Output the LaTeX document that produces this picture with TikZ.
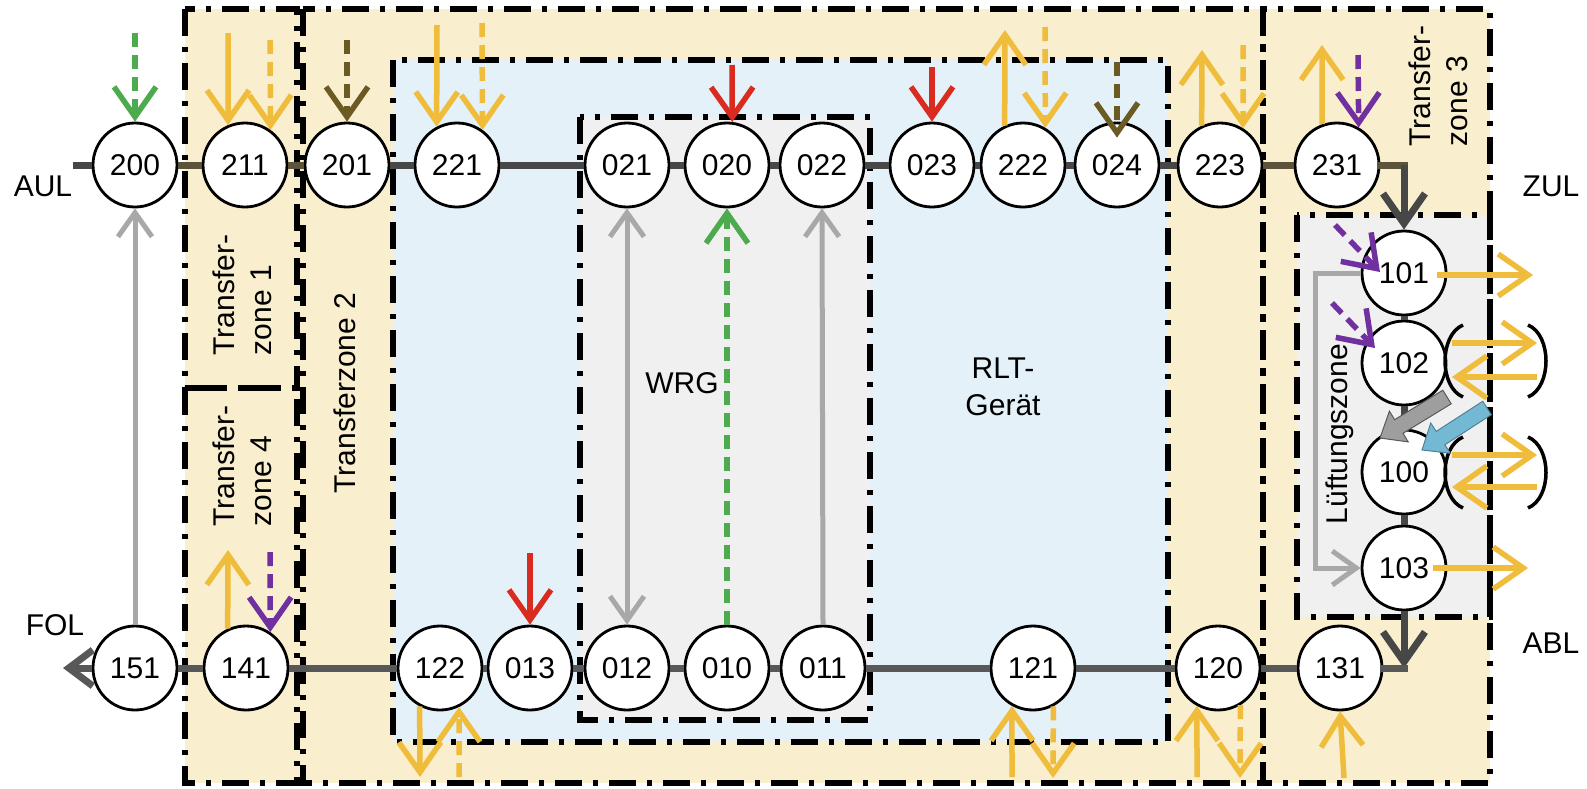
\documentclass[tikz,border=0pt]{standalone}
\usepackage{fontspec}
\setmainfont{Liberation Sans}
\usetikzlibrary{arrows.meta,calc}
\definecolor{beige}{HTML}{F9EFCF}
\definecolor{lblue}{HTML}{E4F1F8}
\definecolor{lgray}{HTML}{F0F0F0}
\definecolor{yel}{HTML}{EFBC3B}
\definecolor{rd}{HTML}{D92B1F}
\definecolor{grn}{HTML}{4DAA4E}
\definecolor{olv}{HTML}{6B5A22}
\definecolor{prp}{HTML}{7030A0}
\definecolor{gry}{HTML}{A8A8A8}
\definecolor{dline}{HTML}{474747}
\definecolor{bline}{HTML}{5C543A}
\definecolor{bot}{HTML}{585858}
\definecolor{fatgray}{HTML}{9E9E9E}
\definecolor{fatblue}{HTML}{74B9D3}
\begin{document}
\begin{tikzpicture}[x=1pt,y=-1pt,
  txt/.style={font=\fontsize{30}{37}\selectfont, inner sep=0pt},
  nd/.style={circle, draw=black, line width=2.8pt, fill=white, minimum size=84pt, inner sep=0pt, txt},
  zone/.style={draw=black, line width=6pt, dash pattern=on 27pt off 11pt on 5pt off 11pt},
  barb/.style={-{Straight Barb[length=30pt,width=42pt]}},
  sbarb/.style={-{Straight Barb[length=24pt,width=34pt]}},
  dsh/.style={dash pattern=on 14pt off 8pt},
  ya/.style={draw=yel, line width=5.5pt, barb},
  yd/.style={ya, dsh},
  ra/.style={draw=rd, line width=5.5pt, barb},
  ga/.style={draw=grn, line width=5.5pt, barb, dsh},
  oa/.style={draw=olv, line width=5.5pt, barb, dsh},
  pa/.style={draw=prp, line width=5.5pt, barb, dsh},
  gr/.style={draw=gry, line width=5pt, sbarb},
  dk/.style={draw=dline, line width=7pt},
  br/.style={draw=bline, line width=7pt},
  bl/.style={draw=bot, line width=7pt},
  bracket/.style={draw=black, line width=3.5pt},
]
\useasboundingbox (0,0) rectangle (1587,788);
\fill[white] (0,0) rectangle (1587,788);

% backgrounds
\fill[beige] (185,9) rectangle (1490,783);
\fill[lblue] (393,60) rectangle (1168,742);
\fill[lgray] (580,117) rectangle (870,720);
\fill[lgray] (1297,215) rectangle (1490,617);

% zone boxes
\draw[zone] (185,9) rectangle (297,388);
\draw[zone] (185,388) rectangle (297,783);
\draw[zone] (303,9) rectangle (1263,783);
\draw[zone] (1263,9) rectangle (1490,783);
\draw[zone] (393,60) rectangle (1168,742);
\draw[zone] (580,117) rectangle (870,720);
\draw[zone] (1297,215) rectangle (1490,617);

% labels
\node[txt] (aul) at (43,186) {AUL};
\node[txt] (zul) at (1551,186) {ZUL};
\node[txt] (abl) at (1551,643) {ABL};
\node[txt] (fol) at (55,625) {FOL};
\node[txt, rotate=90, align=left] (tz1) at (242,295) {Transfer-\\zone 1};
\node[txt, rotate=90, align=left] (tz4) at (242,466) {Transfer-\\zone 4};
\node[txt, rotate=90] (tz2) at (345,393) {Transferzone 2};
\node[txt, rotate=90, align=left] (tz3) at (1438,86) {Transfer-\\zone 3};
\node[txt] (wrg) at (682,383) {WRG};
\node[txt, align=center] (rlt) at (1003,387) {RLT-\\Gerät};
\node[txt, rotate=90] (lz) at (1340,434) {Lüftungszone};

% nodes top row
\foreach \n/\x in {200/135, 211/245, 201/347, 221/457, 021/627, 020/727, 022/822, 023/932, 222/1023, 024/1117, 223/1220, 231/1337}
  \node[nd] (n\n) at (\x,165) {\n};
% nodes bottom row
\foreach \n/\x in {151/135, 141/246, 122/440, 013/530, 012/627, 010/727, 011/823, 121/1033, 120/1218, 131/1340}
  \node[nd] (n\n) at (\x,668) {\n};
% ventilation zone column
\foreach \n/\y in {101/273, 102/363, 100/472, 103/568}
  \node[nd] (n\n) at (1404,\y) {\n};

% main lines
\coordinate (aulS) at (73,165);
\coordinate (folE) at (63,668);
\coordinate (cTop) at (1404,165);
\coordinate (cBot) at (1404,668);
\draw[dk] (aulS) -- (n200);
\foreach \a/\b in {n200/n211, n211/n201, n223/n231}
  \draw[br] (\a) -- (\b);
\foreach \a/\b in {n201/n221, n221/n021, n021/n020, n020/n022, n022/n023, n023/n222, n222/n024, n024/n223}
  \draw[dk] (\a) -- (\b);
\draw[br, line cap=rect] (n231) -- (cTop);
\draw[dk, barb] (cTop) -- (n101.north);
\foreach \a/\b in {n101/n102, n102/n100, n100/n103}
  \draw[dk] (\a) -- (\b);
\draw[dk, barb] (n103.south) -- (cBot);
\draw[bl, line cap=rect] (cBot) -- (n131);
\foreach \a/\b in {n131/n120, n120/n121, n121/n011, n011/n010, n010/n012, n012/n013, n013/n122, n122/n141, n141/n151}
  \draw[bl] (\a) -- (\b);
\draw[bl, -{Straight Barb[length=24pt,width=36pt]}] (n151) -- (folE);

% return air / heat recovery arrows
\draw[gr] (n151.north) -- (n200.south);
\draw[gr, {Straight Barb[length=24pt,width=34pt]}-{Straight Barb[length=24pt,width=34pt]}] (n021.south) -- (n012.north);
\draw[ga] (n010.north) -- (n020.south);
\draw[gr] (n011.north) -- (n022.south);

% top row arrows
\draw[ga] (135,33) -- (n200.north);
\draw[ya] (228,33) -- (n211.113);
\draw[yd] (270,40) -- (n211.54);
\draw[oa] (347,40) -- (n201.north);
\draw[ya] (437,25) -- (n221.118);
\draw[yd] (482,23) -- (n221.54);
\draw[ra] (732,65) -- (n020.83);
\draw[ra] (932,67) -- (n023.north);
\draw[ya] (n222.115) -- (1005,30);
\draw[yd] (1045,27) -- (n222.59);
\draw[oa, shorten >=-16pt] (1117,62) -- (n024.north);
\draw[ya] (n223.115) -- (1202,50);
\draw[yd] (1243,45) -- (n223.58);
\draw[ya] (n231.110) -- (1322,45);
\draw[pa] (1358,55) -- (n231.60);

% bottom row arrows
\draw[ya] (n141.115) -- (228,550);
\draw[pa] (270,552) -- (n141.56);
\draw[ra] (530,553) -- (n013.north);
\draw[ya] (n122.242) -- (420,777);
\draw[yd] (459,777) -- (n122.296);
\draw[ya] (1012,777) -- (n121.241);
\draw[yd] (n121.298) -- (1053,778);
\draw[ya] (1197,777) -- (n120.241);
\draw[yd] (n120.301) -- (1240,778);
\draw[ya] (1344,778) -- (n131.south);

% ventilation zone arrows
\draw[pa] (1335,225) -- ($(n101.center)+(-24,-1)$);
\draw[pa] (1332,303) -- ($(n102.center)+(-29,-15)$);
\draw[ya] ($(n101.center)+(33,2)$) -- (1533,275);
\draw[ya] ($(n103.center)+(29,0)$) -- (1528,568);
\draw[gr] (n101.west) -- (1315,273) -- (1315,568) -- (n103.west);

% brackets and exchange arrows at 102 and 100
\foreach \yt/\ya/\yb/\ybot in {325/343/377/397, 437/455/487/508}{
  \draw[bracket] (1463,\yt) .. controls (1439,\yt+10) and (1439,\ybot-10) .. (1463,\ybot);
  \draw[bracket] (1528,\yt) .. controls (1552,\yt+10) and (1552,\ybot-10) .. (1528,\ybot);
  \draw[ya] (1452,\ya) -- (1537,\ya);
  \draw[ya] (1537,\yb) -- (1452,\yb);
}

% block arrows into 100
\filldraw[fill=fatgray, draw=gray!70!black, line width=1pt]
  (1451.2,403.8) -- (1403.0,433.3) -- (1408.2,441.9) -- (1380,438) -- (1389.4,411.1) -- (1394.6,419.7) -- (1442.8,390.2) -- cycle;
\filldraw[fill=fatblue, draw=fatblue!70!black, line width=1pt]
  (1491.3,414.7) -- (1444.8,444.8) -- (1450.3,453.2) -- (1422,450) -- (1430.7,423.0) -- (1436.2,431.4) -- (1482.7,401.3) -- cycle;
\end{tikzpicture}
\end{document}
